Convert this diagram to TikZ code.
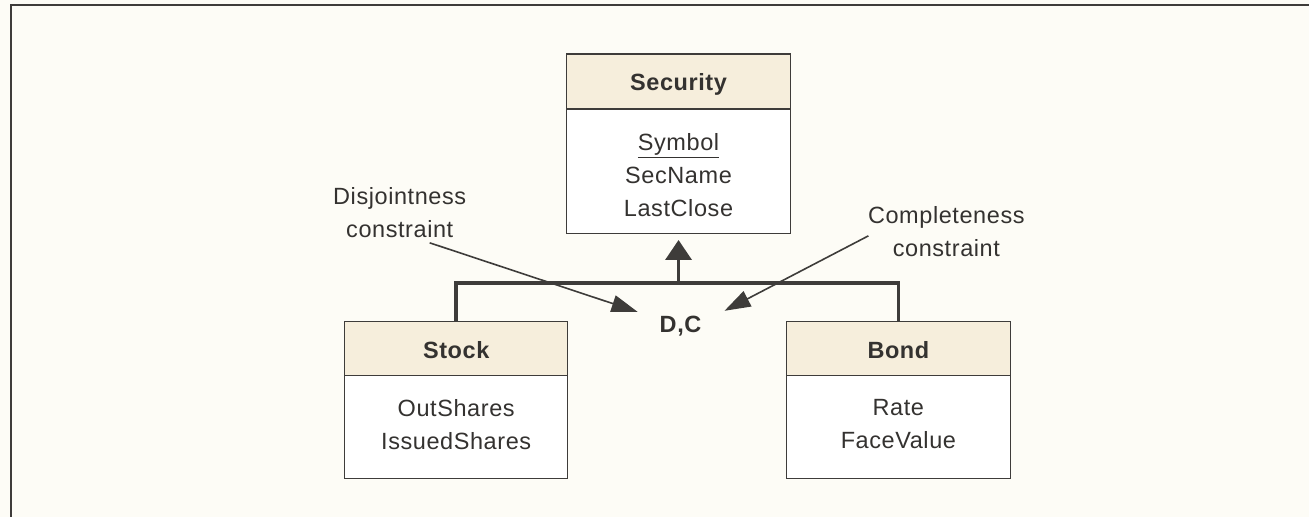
\documentclass[tikz,border=0pt]{standalone}
\usepackage{fontspec}
\setmainfont{Liberation Sans}[LetterSpace=2.5]
\usetikzlibrary{arrows.meta,calc}
\definecolor{ink}{RGB}{62,60,58}
\definecolor{txt}{RGB}{52,50,48}
\definecolor{hdrfill}{RGB}{246,238,220}
\definecolor{paper}{RGB}{253,252,246}
\begin{document}
\begin{tikzpicture}[x=1pt,y=-1pt,
  every node/.style={text=txt},
  txtfont/.style={font=\fontsize{23.5}{33}\selectfont},
  hdr/.style={draw=ink, line width=1.3pt, fill=hdrfill, minimum height=55pt, inner sep=0pt},
  hdrtext/.style={inner sep=0pt, font=\fontsize{23.5}{33}\selectfont\bfseries},
  bodybox/.style={draw=ink, line width=1.3pt, fill=white, inner sep=0pt},
  lbl/.style={inner sep=0pt, align=center, txtfont},
  conn/.style={draw=ink, line width=3.6pt},
  pointer/.style={draw=ink, line width=1.6pt, -{Triangle[length=26pt,width=17pt]}},
]
% background and page frame
\fill[paper] (0,0) rectangle (1310,517);
\draw[ink, line width=1.8pt] (11,517) -- (11,5) -- (1310,5);

% Security
\node[hdr, minimum width=224pt, minimum height=55pt] (sech) at (679,81.5) {};
\node[hdrtext] (secht) at ($(sech.center)+(0,3)$) {Security};
\node[bodybox, minimum width=224pt, minimum height=124pt] (secb) at (679,171.5) {};
\node[lbl] (secbt) at ($(secb.center)+(0,4)$) {\underline{Symbol}\\SecName\\LastClose};

% Stock
\node[hdr, minimum width=223pt, minimum height=54pt] (stoh) at (456.5,349) {};
\node[hdrtext] (stoht) at ($(stoh.center)+(0,1)$) {Stock};
\node[bodybox, minimum width=223pt, minimum height=103pt] (stob) at (456.5,427.5) {};
\node[lbl] (stobt) at ($(stob.center)+(0,-3)$) {OutShares\\IssuedShares};

% Bond
\node[hdr, minimum width=224pt, minimum height=54pt] (bonh) at (899,349) {};
\node[hdrtext] (bonht) at ($(bonh.center)+(0,1)$) {Bond};
\node[bodybox, minimum width=224pt, minimum height=103pt] (bonb) at (899,427.5) {};
\node[lbl] (bonbt) at ($(bonb.center)+(0,-3)$) {Rate\\FaceValue};

% generalization connector
\coordinate (j) at (679,283);
\draw[conn] (stoh.north) |- (j) -| (bonh.north);
\draw[conn, -{Triangle[length=20pt,width=26pt]}, shorten >=6pt] (j) -- (secb.south);

% D,C label
\node[hdrtext] (dc) at (681,326) {D,C};

% constraint labels
\node[lbl] (dis) at (400,213) {Disjointness\\constraint};
\node[lbl] (cmp) at (947,232) {Completeness\\constraint};

\draw[pointer] ($(dis.center)+(30,30)$) -- ($(dc.center)+(-43,-14)$);
\draw[pointer] ($(cmp.center)+(-78,4)$) -- ($(dc.center)+(44,-15)$);
\end{tikzpicture}
\end{document}
